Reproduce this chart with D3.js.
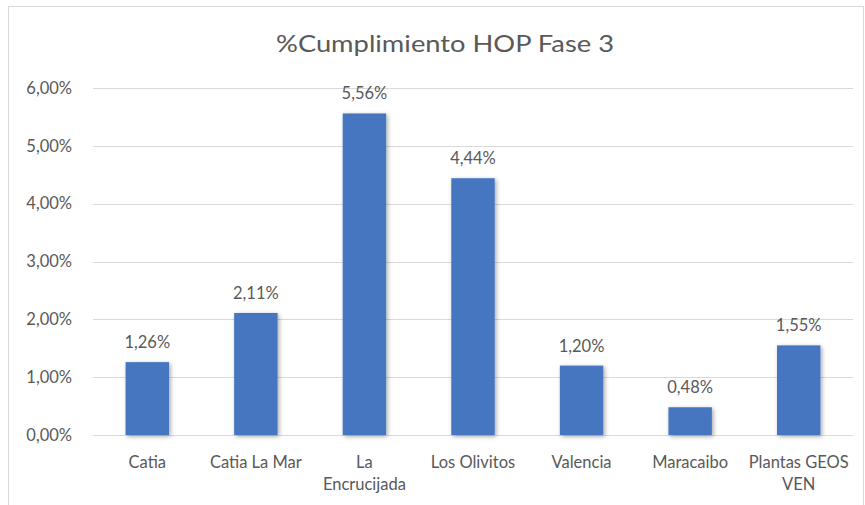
<!DOCTYPE html>
<html>
<head>
<meta charset="utf-8">
<script src="https://cdn.jsdelivr.net/npm/d3@7/dist/d3.min.js"></script>
<style>
  body { margin: 0; background: #fff; }
  svg { display: block; }
</style>
</head>
<body>
<svg id="chart"></svg>
<script>
// data
const categories = ['Catia', 'Catia La Mar', 'La Encrucijada', 'Los Olivitos', 'Valencia', 'Maracaibo', 'Plantas GEOS VEN'];
const categoryLines = [['Catia'], ['Catia La Mar'], ['La', 'Encrucijada'], ['Los Olivitos'], ['Valencia'], ['Maracaibo'], ['Plantas GEOS', 'VEN']];
const values = [1.26, 2.11, 5.56, 4.44, 1.20, 0.48, 1.55];
const yTicks = [0, 1, 2, 3, 4, 5, 6];

const width = 865;
const height = 505;
const margin = { top: 88, right: 12, bottom: 70, left: 93 };

const fmt = (v) => v.toFixed(2).replace('.', ',') + '%';
const font = 'Lato, "Open Sans", sans-serif';
const textColor = '#595959';
const labelSize = 16.5;

const svg = d3.select('#chart').attr('width', width).attr('height', height);

const defs = svg.append('defs');
const shadow = defs.append('filter')
  .attr('id', 'shadow')
  .attr('x', '-30%').attr('y', '-10%')
  .attr('width', '160%').attr('height', '130%');
shadow.append('feDropShadow')
  .attr('dx', 1.5).attr('dy', 1.5)
  .attr('stdDeviation', 2.2)
  .attr('flood-color', '#000')
  .attr('flood-opacity', 0.35);

// chart frame
svg.append('rect')
  .attr('x', 8.5).attr('y', 6.5)
  .attr('width', 855).attr('height', 510)
  .attr('fill', '#fff')
  .attr('stroke', '#d9d9d9');

const x = d3.scaleBand()
  .domain(categories)
  .range([margin.left, width - margin.right])
  .paddingInner(0.6)
  .paddingOuter(0.3);

const y = d3.scaleLinear()
  .domain([0, 6])
  .range([435, margin.top]);

// title
svg.append('text')
  .attr('x', 445).attr('y', 52)
  .attr('text-anchor', 'middle')
  .attr('font-family', font)
  .attr('font-size', 23)
  .attr('textLength', 338)
  .attr('lengthAdjust', 'spacingAndGlyphs')
  .attr('fill', textColor)
  .text('%Cumplimiento HOP Fase 3');

// gridlines
svg.append('g')
  .selectAll('line')
  .data(yTicks)
  .join('line')
  .attr('x1', margin.left).attr('x2', width - margin.right)
  .attr('y1', (d) => Math.round(y(d)) + 0.5)
  .attr('y2', (d) => Math.round(y(d)) + 0.5)
  .attr('stroke', '#d9d9d9')
  .attr('stroke-width', 1);

// y axis labels
const yAxis = d3.axisLeft(y)
  .tickValues(yTicks)
  .tickFormat(fmt)
  .tickSize(0)
  .tickPadding(21);

svg.append('g')
  .attr('transform', `translate(${margin.left},0)`)
  .call(yAxis)
  .call((g) => g.select('.domain').remove())
  .call((g) => g.selectAll('text')
    .attr('font-family', font)
    .attr('font-size', labelSize)
    .attr('fill', textColor));

// bars
svg.append('g')
  .selectAll('rect')
  .data(values)
  .join('rect')
  .attr('x', (d, i) => x(categories[i]))
  .attr('y', (d) => y(d))
  .attr('width', x.bandwidth())
  .attr('height', (d) => y(0) - y(d))
  .attr('fill', '#4676c0')
  .attr('filter', 'url(#shadow)');

// value labels
svg.append('g')
  .selectAll('text')
  .data(values)
  .join('text')
  .attr('x', (d, i) => x(categories[i]) + x.bandwidth() / 2)
  .attr('y', (d) => y(d) - 14)
  .attr('text-anchor', 'middle')
  .attr('font-family', font)
  .attr('font-size', labelSize)
  .attr('fill', textColor)
  .text(fmt);

// category labels
const xLabels = svg.append('g')
  .selectAll('text')
  .data(categories)
  .join('text')
  .attr('x', (d) => x(d) + x.bandwidth() / 2)
  .attr('y', 468)
  .attr('text-anchor', 'middle')
  .attr('font-family', font)
  .attr('font-size', labelSize)
  .attr('fill', textColor);

xLabels.selectAll('tspan')
  .data((d, i) => categoryLines[i])
  .join('tspan')
  .attr('x', function () { return d3.select(this.parentNode).attr('x'); })
  .attr('dy', (d, i) => (i === 0 ? 0 : 22))
  .text((d) => d);
</script>
</body>
</html>
